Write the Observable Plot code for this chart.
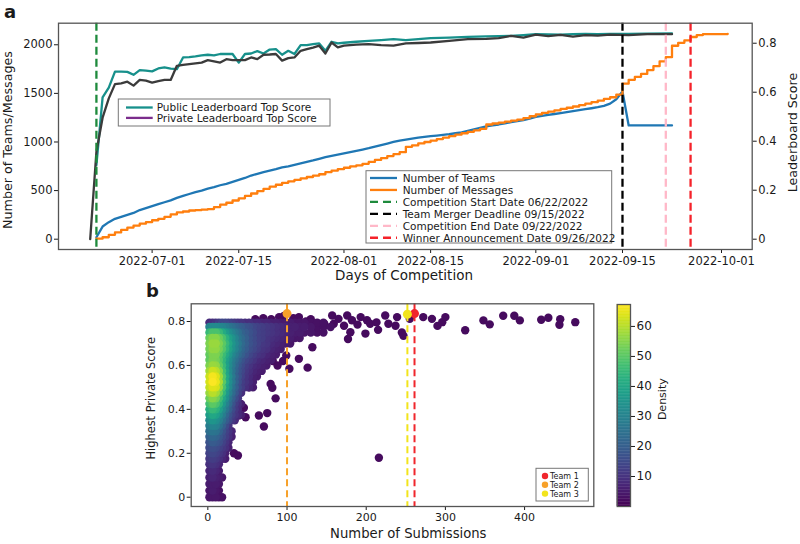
<!DOCTYPE html>
<html><head><meta charset="utf-8">
<script src="https://cdn.jsdelivr.net/npm/d3@7"></script>
<script src="https://cdn.jsdelivr.net/npm/@observablehq/plot@0.6"></script>
<style>
body{margin:0;background:#fff;}
#wrap{position:relative;width:800px;height:544px;font-family:"DejaVu Sans",sans-serif;}
#wrap svg{position:absolute;left:0;top:0;overflow:visible;}
</style></head><body><div id="wrap"></div>
<script>
// ---------------- Panel a data ----------------
const dayDates = ["06-22","06-23","06-24","06-25","06-26","06-27","06-28","06-29","06-30",
"07-01","07-02","07-03","07-04","07-05","07-06","07-07","07-08","07-09","07-10","07-11","07-12","07-13","07-14","07-15","07-16","07-17","07-18","07-19","07-20","07-21","07-22","07-23","07-24","07-25","07-26","07-27","07-28","07-29","07-30","07-31",
"08-01","08-02","08-03","08-04","08-05","08-06","08-07","08-08","08-09","08-10","08-11","08-12","08-13","08-14","08-15","08-16","08-17","08-18","08-19","08-20","08-21","08-22","08-23","08-24","08-25","08-26","08-27","08-28","08-29","08-30","08-31",
"09-01","09-02","09-03","09-04","09-05","09-06","09-07","09-08","09-09","09-10","09-11","09-12","09-13","09-14","09-15","09-16","09-17","09-18","09-19","09-20","09-21","09-22","09-23","09-24","09-25","09-26","09-27","09-28","10-02"];
const teamCounts = [20,130,175,210,230,250,270,300,320,
340,360,380,400,425,445,465,484,500,520,535,555,570,590,610,630,655,673,690,705,720,738,750,765,780,795,810,827,844,858,870,
882,895,908,922,936,952,968,984,1000,1015,1025,1035,1045,1053,1060,1066,1073,1080,1090,1100,1115,1130,1145,1160,1170,1180,1192,1204,1215,1226,1240,
1258,1268,1278,1288,1298,1307,1317,1327,1337,1347,1358,1372,1395,1440,1520,1170,1170,1170,1170,1170,1170,1170,1170,null,null,null,null,null,null];
const messageCounts = [5,20,45,70,95,120,140,160,175,
195,210,230,255,275,285,295,300,305,310,330,355,375,398,420,445,470,495,518,540,560,580,595,610,625,640,655,668,690,705,720,
735,750,760,775,795,815,835,855,875,895,950,965,985,1000,1015,1030,1045,1060,1075,1090,1105,1120,1135,1180,1190,1200,1210,1220,1230,1245,1265,
1285,1300,1312,1325,1340,1352,1365,1380,1395,1410,1425,1444,1460,1488,1600,1640,1670,1700,1740,1780,1830,1872,1990,2020,2045,2080,2100,2110,2113];

const scoreDates = ["06-21","06-22","06-23","06-24","06-25","06-26","06-27","06-28","06-29","06-30",
"07-01","07-02","07-03","07-04","07-05","07-06","07-07","07-08","07-09","07-10","07-11","07-12","07-13","07-14","07-15","07-16","07-17","07-18","07-19","07-20","07-21","07-22","07-23","07-24","07-25","07-26","07-27","07-28","07-29","07-30","07-31",
"08-01","08-03","08-05","08-07","08-09","08-11","08-13","08-15","08-18","08-21","08-24","08-26","08-28","08-30","09-01","09-03","09-05","09-07","09-09","09-11","09-13","09-16","09-19","09-23"];
const publicTopScore = [null,0.302,0.579,0.619,0.684,0.684,0.683,0.671,0.690,0.688,
0.685,0.697,0.701,0.696,0.694,0.742,0.743,0.746,0.750,0.753,0.750,0.756,0.756,0.756,0.721,0.756,0.758,0.768,0.758,0.774,0.776,0.753,0.769,0.756,0.792,0.792,0.796,0.799,0.769,0.806,0.799,
0.802,0.806,0.810,0.813,0.817,0.813,0.817,0.821,0.823,0.826,0.828,0.829,0.830,0.833,0.837,0.836,0.835,0.837,0.838,0.837,0.838,0.838,0.839,0.840];
const privateTopScore = [0,0.357,0.496,0.575,0.633,0.636,0.643,0.627,0.650,0.647,
0.639,0.645,0.650,0.650,0.708,0.712,0.715,0.718,0.721,0.731,0.726,0.721,0.735,0.731,0.731,0.731,0.742,0.735,0.753,0.754,0.756,0.729,0.739,0.742,0.769,0.776,0.782,0.790,0.758,0.803,0.783,
0.790,0.794,0.796,0.792,0.790,0.799,0.801,0.803,0.810,0.817,0.818,0.821,0.830,0.823,0.835,0.829,0.834,0.827,0.833,0.831,0.835,0.833,0.837,0.837];

const eventNames = ["Competition Start Date 06/22/2022","Team Merger Deadline 09/15/2022","Competition End Date 09/22/2022","Winner Announcement Date 09/26/2022"];
const eventDates = ["06-22","09-15","09-22","09-26"];
const eventColors = ["#1e8a3c","#000000","#ffb8c8","#f5222a"];
const xTickDates = ["07-01","07-15","08-01","08-15","09-01","09-15","10-01"];
const leftTicks = [0,500,1000,1500,2000];
const rightTicks = [0,0.2,0.4,0.6,0.8];

// ---------------- Panel b data ----------------
const xSlots = [2,6,10,14,18,22,26,30,34,38,42,47,52,57,62,68,74,80,86,92,98,104,110,116,122,130,138,146,155];
const denseRows = [
 [0.00,[4,4,4,3,3]],
 [0.03,[4,5,4,3]],
 [0.06,[5,5,5,4]],
 [0.09,[6,7,6,5,4]],
 [0.12,[7,8,7,5]],
 [0.15,[9,10,9,7]],
 [0.175,[11,12,11,9,7,5]],
 [0.20,[13,14,13,11,9,6]],
 [0.225,[15,16,15,13,11,9,6]],
 [0.25,[17,19,18,16,13,10,7]],
 [0.275,[20,22,21,18,15,12,9,6]],
 [0.30,[24,26,25,21,17,13,10,7]],
 [0.325,[28,30,29,25,20,15,10]],
 [0.35,[32,35,33,29,24,19,15,11,8]],
 [0.375,[37,40,38,33,28,22,17,13,10,8,6]],
 [0.40,[42,45,43,38,32,26,20,15,11,8]],
 [0.425,[47,50,48,43,36,29,23,17,12,9,6]],
 [0.45,[52,55,53,47,40,33,26,20,15,11]],
 [0.475,[57,60,58,52,44,36,29,23,18,13,9]],
 [0.50,[61,64,63,57,48,39,32,25,20,15,12,9,7,5]],
 [0.525,[63,67,65,59,50,41,33,27,21,16,12,10,8,6]],
 [0.55,[62,66,64,58,49,40,33,27,21,17,13,10,8,6,5]],
 [0.575,[58,62,60,55,47,39,32,26,21,17,14,11,9,7,6,5]],
 [0.60,[54,57,56,51,45,38,32,27,22,18,15,12,10,8,7,6,5]],
 [0.625,[51,54,53,49,44,38,33,28,24,20,17,14,12,10,8,7,6,5]],
 [0.65,[51,54,54,50,46,41,36,31,27,23,20,17,14,12,10,9,7,6,5]],
 [0.675,[53,56,56,53,49,44,39,34,30,26,22,19,16,14,12,10,9,7,6,5]],
 [0.70,[54,57,57,54,50,45,40,35,31,27,23,20,17,15,13,11,10,8,7,6,5,4]],
 [0.725,[52,55,55,52,48,43,38,34,30,26,23,20,17,15,13,12,10,9,8,7,6,5,4,4]],
 [0.75,[45,48,48,45,41,37,33,30,27,24,21,19,17,15,13,12,11,10,9,8,7,6,5,5,4,4,3,3]],
 [0.775,[30,32,32,31,30,28,26,24,22,20,19,17,16,14,13,12,11,10,9,8,7,6,6,5,5,4,3,3,3]],
 [0.795,[8,9,10,12,14,14,13,12,11,10,10,9,9,8,8,7,7,6,6,5,5,5,4,4,4,3,3,3]]
];
const sparseSubs = [33,38,39,47.7,64.5,70.8,75,45.5,85.6,81.4,79.3,52,88,99,103,115,126,132,86,82,95,60,70,80,90,96,108,115,124,130,140,147,157,159,165,172,176,177,180,182,189,193,199,201,205,213,215,224,228,237,239,245,247,255,272,283,290,296,300,325,348,356,373,387,394,421,430,445,444,464,216];
const sparseScores = [0.20,0.19,0.372,0.364,0.372,0.322,0.383,0.407,0.45,0.498,0.516,0.50,0.60,0.645,0.585,0.63,0.59,0.683,0.67,0.62,0.62,0.81,0.815,0.81,0.82,0.825,0.815,0.82,0.80,0.81,0.79,0.79,0.827,0.79,0.812,0.781,0.827,0.72,0.751,0.806,0.786,0.82,0.745,0.806,0.79,0.796,0.762,0.827,0.79,0.781,0.82,0.75,0.735,0.812,0.82,0.812,0.78,0.797,0.82,0.76,0.805,0.787,0.826,0.826,0.805,0.808,0.817,0.81,0.785,0.797,0.18];
const sparseDensity = 2;

const teamNames = ["Team 1","Team 2","Team 3"];
const teamSubs = [261,100,252];
const teamScores = [0.836,0.836,0.833];
const teamColors = ["#f0262c","#f7a12a","#f2e41c"];
const bxTicks = [0,100,200,300,400];
const byTicks = [0,0.2,0.4,0.6,0.8];
const densityTicks = [10,20,30,40,50,60];
const densityMax = 67.3;

// ---------------- build ----------------
const P = s => new Date("2022-" + s + "T00:00:00Z");
const K = 2520; // left-axis units per unit of leaderboard score (dual axis)
const teamsData = dayDates.map((d,i)=>({date:P(d), v:teamCounts[i]}));
const msgData = dayDates.map((d,i)=>({date:P(d), v:messageCounts[i]}));
const pubData = scoreDates.map((d,i)=>({date:P(d), s:publicTopScore[i]}));
const privData = scoreDates.map((d,i)=>({date:P(d), s:privateTopScore[i]}));
const font = '"DejaVu Sans", sans-serif';
const wrap = document.getElementById("wrap");

const eventMarks = eventDates.map((d,i)=>Plot.ruleX([P(d)], {stroke:eventColors[i], strokeWidth:2.3, strokeDasharray:"8,4"}));

const topPlot = Plot.plot({
  width:800, height:544,
  marginLeft:58, marginRight:48.3, marginTop:22.7, marginBottom:295,
  style:{fontFamily:font, fontSize:"11.5px", background:"transparent", color:"#1a1a1a", overflow:"visible"},
  x:{type:"utc", domain:[new Date("2022-06-15T21:00:00Z"), new Date("2022-10-05T23:00:00Z")]},
  y:{domain:[-106,2222]},
  marks:[
    Plot.axisX({ticks:xTickDates.map(P), tickFormat:d3.utcFormat("%Y-%m-%d"), tickSize:4, tickPadding:3, label:null}),
    Plot.axisY({ticks:leftTicks, tickFormat:d3.format("d"), tickSize:4, tickPadding:2, label:null}),
    Plot.axisY({anchor:"right", ticks:rightTicks.map(v=>v*K), tickFormat:d=>{const v=Math.round(d/K*10)/10; return v===0?"0":v.toFixed(1);}, tickSize:4, tickPadding:2, label:null}),
    Plot.line(teamsData, {x:"date", y:"v", stroke:"#1f77b4", strokeWidth:2.3}),
    Plot.line(msgData, {x:"date", y:"v", stroke:"#ff7f0e", strokeWidth:2.3, curve:"step-after"}),
    Plot.line(pubData, {x:"date", y:d=>d.s==null?null:d.s*K, stroke:"#17908b", strokeWidth:2.3}),
    Plot.line(privData, {x:"date", y:d=>d.s*K, stroke:"#3b3b3b", strokeWidth:2.3}),
    ...eventMarks,
    Plot.frame({stroke:"#555", strokeWidth:1.3})
  ]
});
wrap.appendChild(topPlot);

const scatter = [];
denseRows.forEach(([y, dens]) => dens.forEach((d,j)=>scatter.push({x:xSlots[j], y, d})));
sparseSubs.forEach((x,i)=>scatter.push({x, y:sparseScores[i], d:sparseDensity}));
scatter.sort((a,b)=>a.d-b.d);

const bPlot = Plot.plot({
  width:800, height:544,
  marginLeft:190.7, marginRight:206.7, marginTop:303.3, marginBottom:38,
  style:{fontFamily:font, fontSize:"11px", background:"transparent", color:"#1a1a1a", overflow:"visible"},
  x:{domain:[-21,487.4]},
  y:{domain:[-0.0423,0.8806]},
  color:{type:"linear", scheme:"viridis", domain:[0,densityMax]},
  marks:[
    Plot.axisX({ticks:bxTicks, tickSize:4, tickPadding:3, label:null}),
    Plot.axisY({ticks:byTicks, tickFormat:d3.format("~g"), tickSize:4, tickPadding:2, label:null}),
    Plot.dot(scatter, {x:"x", y:"y", fill:"d", r:4.2}),
    ...teamSubs.map((s,i)=>Plot.ruleX([s], {stroke:teamColors[i], strokeWidth:2, strokeDasharray:"7,4"})),
    ...teamSubs.map((s,i)=>Plot.dot([i], {x:()=>s, y:()=>teamScores[i], fill:teamColors[i], r:4.5})),
    Plot.frame({stroke:"#555", strokeWidth:1.3})
  ]
});
wrap.appendChild(bPlot);

const colorSteps = d3.range(0, densityMax, 0.5);
const cbPlot = Plot.plot({
  width:800, height:544,
  marginLeft:616.7, marginRight:170, marginTop:304, marginBottom:38,
  style:{fontFamily:font, fontSize:"12px", background:"transparent", color:"#1a1a1a", overflow:"visible"},
  x:{domain:[0,1], axis:null},
  y:{domain:[0,densityMax], axis:null},
  color:{type:"linear", scheme:"viridis", domain:[0,densityMax]},
  marks:[
    Plot.rect(colorSteps, {x1:()=>0, x2:()=>1, y1:d=>d, y2:d=>Math.min(densityMax, d+0.6), fill:d=>d+0.25}),
    Plot.axisY({anchor:"right", ticks:densityTicks, tickSize:4, tickPadding:2, label:null}),
    Plot.frame({stroke:"#555", strokeWidth:1.3})
  ]
});
wrap.appendChild(cbPlot);

// ---------------- text & legends ----------------
function txt(svg, x, y, s, o={}) {
  const t = d3.select(svg).append("text").attr("x", x).attr("y", y).text(s)
    .attr("font-family", font).attr("font-size", o.size || 12).attr("fill", o.fill || "#1a1a1a")
    .attr("text-anchor", o.anchor || "start");
  if (o.bold) t.attr("font-weight", "bold");
  if (o.rotate) t.attr("x", 0).attr("y", 0).attr("transform", `translate(${x},${y}) rotate(-90)`);
  return t;
}
function seg(svg, x1, x2, y, color, dash, w=2.3) {
  d3.select(svg).append("line").attr("x1",x1).attr("x2",x2).attr("y1",y).attr("y2",y)
    .attr("stroke",color).attr("stroke-width",w).attr("stroke-dasharray", dash || null);
}
function box(svg, x, y, w, h) {
  d3.select(svg).append("rect").attr("x",x).attr("y",y).attr("width",w).attr("height",h)
    .attr("fill","white").attr("stroke","#777").attr("stroke-width",1);
}

txt(topPlot, 4, 18, "a", {size:18, bold:true});
txt(topPlot, 12.3, 140, "Number of Teams/Messages", {size:12.7, anchor:"middle", rotate:true});
txt(topPlot, 797, 132.5, "Leaderboard Score", {size:12.7, anchor:"middle", rotate:true});
txt(topPlot, 404, 280, "Days of Competition", {size:13.5, anchor:"middle"});

// legend 1 (scores)
const legend1 = [["Public Leaderboard Top Score","#17908b"],["Private Leaderboard Top Score","#7b2d8c"]];
box(topPlot, 118.3, 99, 211.7, 27);
legend1.forEach(([name,c],i)=>{ const y = 107.5 + i*10.4; seg(topPlot,126,152.7,y,c); txt(topPlot,156.7,y+3.8,name,{size:10.5}); });

// legend 2 (counts and dates)
const legend2 = [["Number of Teams","#1f77b4",null],["Number of Messages","#ff7f0e",null],
  ...eventNames.map((n,i)=>[n, eventColors[i], "8,5"])];
box(topPlot, 366, 170.7, 245.7, 72.3);
legend2.forEach(([name,c,dash],i)=>{ const y = 178 + i*11.95; seg(topPlot,370,397,y,c,dash); txt(topPlot,402.7,y+3.8,name,{size:10.5}); });

txt(bPlot, 146, 296.5, "b", {size:18, bold:true});
txt(bPlot, 155, 398.3, "Highest Private Score", {size:11.4, anchor:"middle", rotate:true});
txt(bPlot, 408.3, 538, "Number of Submissions", {size:13.2, anchor:"middle"});
txt(cbPlot, 665.5, 399.2, "Density", {size:11, anchor:"middle", rotate:true});

// legend b (teams)
box(bPlot, 536, 468.3, 52.3, 32.7);
teamNames.forEach((n,i)=>{ const y = 476 + i*8.8;
  d3.select(bPlot).append("circle").attr("cx",545).attr("cy",y).attr("r",3.2).attr("fill",teamColors[i]);
  txt(bPlot, 550, y+3, n, {size:8});
});
</script></body></html>
